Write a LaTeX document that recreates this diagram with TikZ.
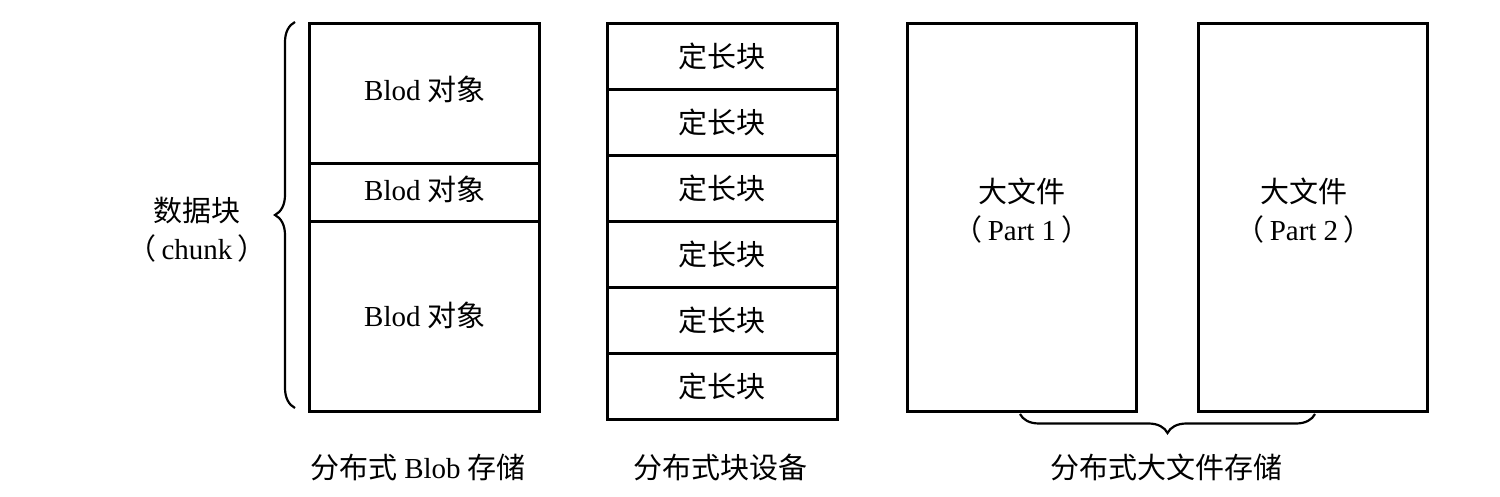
\documentclass[tikz,border=0pt]{standalone}
\usepackage{fontspec}
\setmainfont{Liberation Serif}
\newfontfamily\cjk{Noto Sans CJK SC}
\usetikzlibrary{decorations.pathreplacing}
\begin{document}
\begin{tikzpicture}[x=0.5pt,y=-0.5pt,
  every node/.style={font=\fontsize{14.5pt}{19pt}\selectfont, inner sep=0pt},
  cell/.style={draw, line width=1.3pt, inner sep=0pt, anchor=north west, minimum width=115pt},
  lbl/.style={align=center},
  bracestyle/.style={line width=1.1pt, decorate}]
\useasboundingbox (0,0) rectangle (1500,497);
% Blob column
\node[cell, minimum height=70pt] (b1) at (308,22) {};
\node[cell, minimum height=29pt] (b2) at (308,162) {};
\node[cell, minimum height=95pt] (b3) at (308,220) {};
\node (t1) at (425,89) {Blod {\cjk 对象}};
\node (t2) at (425,189) {Blod {\cjk 对象}};
\node (t3) at (425,315) {Blod {\cjk 对象}};
% fixed-length blocks
\foreach \i in {0,...,5}{
  \node[cell, minimum height=33pt] (r\i) at (606,22+66*\i) {};
  \node at (r\i.center) {\cjk 定长块};
}
% large files
\node[cell, minimum width=114.5pt, minimum height=194pt] (f1) at (906,22) {};
\node[cell, minimum width=114.5pt, minimum height=194pt] (f2) at (1197,22) {};
\node[lbl] (p1) at (1022,211) {{\cjk 大文件}\\{\cjk （}\,Part 1\,{\cjk ）}};
\node[lbl] (p2) at (1304,211) {{\cjk 大文件}\\{\cjk （}\,Part 2\,{\cjk ）}};
% braces
\coordinate (lb1) at (295,408);
\coordinate (lb2) at (295,22);
\draw[bracestyle, decoration={brace, amplitude=10pt}] (lb1) -- (lb2);
\node[lbl] (chunk) at (197,230) {{\cjk 数据块}\\{\cjk （}\,chunk\,{\cjk ）}};
\coordinate (bb1) at (1315,414);
\coordinate (bb2) at (1020,414);
\draw[bracestyle, decoration={brace, amplitude=9.5pt}] (bb1) -- (bb2);
% captions
\node (c1) at (418,467) {{\cjk 分布式} Blob {\cjk 存储}};
\node (c2) at (720,467) {\cjk 分布式块设备};
\node (c3) at (1166,467) {\cjk 分布式大文件存储};
\end{tikzpicture}
\end{document}
